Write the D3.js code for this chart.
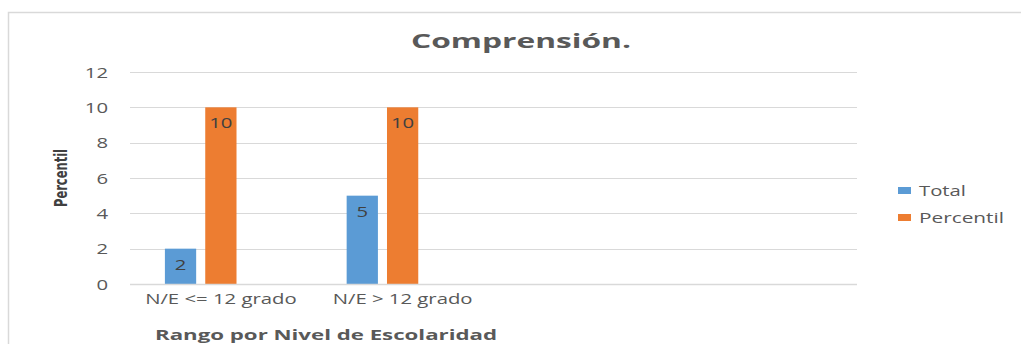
<!DOCTYPE html>
<html>
<head>
<meta charset="utf-8">
<script src="https://cdn.jsdelivr.net/npm/d3@7"></script>
<style>
  html, body { margin: 0; padding: 0; background: #fff; }
  svg { display: block; }
  text { font-family: "Open Sans", "DejaVu Sans", sans-serif; fill: #595959; }
</style>
</head>
<body>
<svg id="chart" width="1021" height="344"></svg>
<script>
// Category labels (the last two slots of the axis are empty)
const categories = ["N/E <= 12 grado", "N/E > 12 grado", "", " "];
// Series
const seriesNames = ["Total", "Percentil"];
const totalValues = [2, 5, null, null];
const percentilValues = [10, 10, null, null];
const seriesColors = ["#5b9bd5", "#ed7d31"];
// Y axis ticks
const yTicks = [0, 2, 4, 6, 8, 10, 12];

const titleText = "Comprensión.";
const xTitleText = "Rango por Nivel de Escolaridad";
const yTitleText = "Percentil";

const svg = d3.select("#chart");
const W = 1021, H = 344;

// widen glyphs horizontally by a fixed factor
const STRETCH = 1.4;
function widen(sel) {
  sel.each(function () {
    const len = this.getComputedTextLength();
    if (len > 0) {
      d3.select(this)
        .attr("textLength", len * STRETCH)
        .attr("lengthAdjust", "spacingAndGlyphs");
    }
  });
}

// chart frame
svg.append("rect")
  .attr("x", 8.5).attr("y", 12.5)
  .attr("width", W + 10).attr("height", H)
  .attr("fill", "#fff").attr("stroke", "#d9d9d9").attr("stroke-width", 1.5);

const plot = { left: 130, right: 857, top: 72, bottom: 284 };

const x0 = d3.scaleBand()
  .domain(categories)
  .range([plot.left, plot.right])
  .paddingInner(0).paddingOuter(0);

// three slots per category: Total, Percentil and an unused slot
const x1 = d3.scaleBand()
  .domain([0, 1, 2])
  .range([0, x0.bandwidth()])
  .paddingInner(0.225)
  .paddingOuter(0.865);

const y = d3.scaleLinear().domain([0, 12]).range([plot.bottom, plot.top]);

// gridlines
svg.append("g")
  .selectAll("line")
  .data(yTicks.filter(d => d > 0))
  .join("line")
  .attr("x1", plot.left).attr("x2", plot.right)
  .attr("y1", d => Math.round(y(d)) + 0.5).attr("y2", d => Math.round(y(d)) + 0.5)
  .attr("stroke", "#d9d9d9").attr("stroke-width", 1);

// y axis labels
const yAxis = d3.axisLeft(y).tickValues(yTicks).tickSize(0).tickPadding(0);
const gy = svg.append("g").attr("transform", `translate(108,0)`).call(yAxis);
gy.select(".domain").remove();
gy.selectAll("text")
  .attr("font-size", "14.5px")
  .attr("fill", "#595959")
  .attr("dy", "0.36em")
  .style("font-family", "'Open Sans', sans-serif")
  .call(widen);

// bars
const seriesValues = [totalValues, percentilValues];
const barData = [];
seriesValues.forEach((vals, si) => {
  vals.forEach((v, ci) => {
    if (v != null) barData.push({ cat: categories[ci], s: si, v });
  });
});

const bars = svg.append("g");
bars.selectAll("rect")
  .data(barData)
  .join("rect")
  .attr("x", d => x0(d.cat) + x1(d.s))
  .attr("width", x1.bandwidth())
  .attr("y", d => y(d.v))
  .attr("height", d => y(0) - y(d.v))
  .attr("fill", d => seriesColors[d.s]);

// data labels inside bar tops
bars.selectAll("text")
  .data(barData)
  .join("text")
  .attr("x", d => x0(d.cat) + x1(d.s) + x1.bandwidth() / 2)
  .attr("y", d => y(d.v) + 21)
  .attr("text-anchor", "middle")
  .attr("font-size", "14.5px")
  .style("fill", "#404040")
  .text(d => d.v)
  .call(widen);

// x axis baseline
svg.append("line")
  .attr("x1", plot.left).attr("x2", plot.right)
  .attr("y1", plot.bottom + 0.5).attr("y2", plot.bottom + 0.5)
  .attr("stroke", "#d9d9d9").attr("stroke-width", 1.5);

// x axis labels
const xAxis = d3.axisBottom(x0).tickSize(0).tickPadding(0);
const gx = svg.append("g").attr("transform", `translate(0,${plot.bottom})`).call(xAxis);
gx.select(".domain").remove();
gx.selectAll("text")
  .attr("y", 20).attr("dy", 0)
  .attr("font-size", "14.5px")
  .attr("fill", "#595959")
  .style("font-family", "'Open Sans', sans-serif")
  .call(widen);

// title
svg.append("text")
  .attr("x", 411).attr("y", 48)
  .attr("font-size", "20px").attr("font-weight", "bold")
  .attr("textLength", 220).attr("lengthAdjust", "spacingAndGlyphs")
  .text(titleText);

// x axis title
svg.append("text")
  .attr("x", 155).attr("y", 340)
  .attr("font-size", "14.5px").attr("font-weight", "bold")
  .attr("textLength", 342).attr("lengthAdjust", "spacingAndGlyphs")
  .text(xTitleText);

// y axis title
svg.append("text")
  .attr("transform", "translate(67,207) rotate(-90)")
  .attr("font-size", "18px").attr("font-weight", "bold")
  .attr("textLength", 58).attr("lengthAdjust", "spacingAndGlyphs")
  .style("font-family", "'DejaVu Sans Condensed', 'DejaVu Sans', sans-serif")
  .style("fill", "#404040")
  .text(yTitleText);

// legend
const legend = svg.append("g");
const legendRows = [
  { name: seriesNames[0], color: seriesColors[0], y: 191, w: 47 },
  { name: seriesNames[1], color: seriesColors[1], y: 218, w: 85 }
];
legendRows.forEach(r => {
  legend.append("rect")
    .attr("x", 898).attr("y", r.y - 4)
    .attr("width", 13).attr("height", 7)
    .attr("fill", r.color);
  legend.append("text")
    .attr("x", 919).attr("y", r.y + 5)
    .attr("font-size", "14.5px")
    .attr("textLength", r.w).attr("lengthAdjust", "spacingAndGlyphs")
    .text(r.name);
});
</script>
</body>
</html>
